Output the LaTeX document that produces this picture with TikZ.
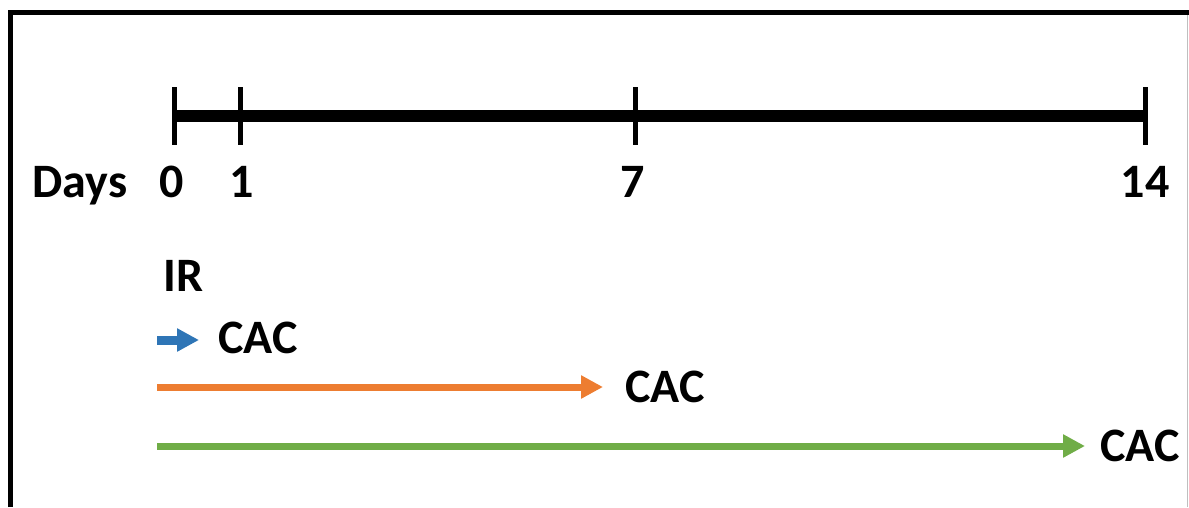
\documentclass[tikz,border=0pt]{standalone}
\usepackage{fontspec}
\setmainfont{Carlito}
\usetikzlibrary{arrows.meta}
\definecolor{cblue}{HTML}{2E75B6}
\definecolor{corange}{HTML}{ED7D31}
\definecolor{cgreen}{HTML}{70AD47}
\begin{document}
\begin{tikzpicture}[x=1pt,y=-1pt,
  lab/.style={font=\fontsize{48}{52}\selectfont\bfseries, inner sep=0pt},
  tick/.style={line width=5pt},
  bar/.style={line width=12pt},
  arr/.style={line width=#1, -{Triangle[length=22pt,width=22pt]}},
  frame/.style={line width=5pt}]
\useasboundingbox (0,0) rectangle (1189,507);
% frame
\coordinate (fbl) at (10.5,507);
\coordinate (ftl) at (10.5,12);
\coordinate (ftr) at (1189,12);
\draw[frame] (fbl) -- (ftl) -- (ftr);
\coordinate (grt) at (1187,15);
\coordinate (grb) at (1187,507);
\draw[black!25, line width=1pt] (grt) -- (grb);
% timeline
\coordinate (t0) at (174,116);
\coordinate (t1) at (240,116);
\coordinate (t7) at (635,116);
\coordinate (t14) at (1145,116);
\draw[bar] (t0) -- (t14);
\foreach \t in {t0,t1,t7,t14}{
  \draw[tick] ([yshift=29pt]\t) -- ([yshift=-29pt]\t);
}
\node[lab, anchor=base] (days) at (80,197) {Days};
\node[lab, anchor=base] (l0) at (172,197) {0};
\node[lab, anchor=base] (l1) at (242,197) {1};
\node[lab, anchor=base] (l7) at (633,197) {7};
\node[lab, anchor=base] (l14) at (1145,197) {14};
% IR and arrows
\node[lab, anchor=base west] (ir) at (163,291) {IR};
\node[lab, anchor=base west] (cac1) at (218,353) {CAC};
\node[lab, anchor=base west] (cac2) at (625,402) {CAC};
\node[lab, anchor=base west] (cac3) at (1100,461) {CAC};
\coordinate (s1) at (157,340);
\coordinate (s2) at (157,387);
\coordinate (s3) at (157,446);
\draw[arr=9pt, draw=cblue, fill=cblue, shorten >=19pt] (s1) -- (cac1.west |- s1);
\draw[arr=7pt, draw=corange, fill=corange, shorten >=22pt] (s2) -- (cac2.west |- s2);
\draw[arr=7pt, draw=cgreen, fill=cgreen, shorten >=15pt] (s3) -- (cac3.west |- s3);
\end{tikzpicture}
\end{document}
